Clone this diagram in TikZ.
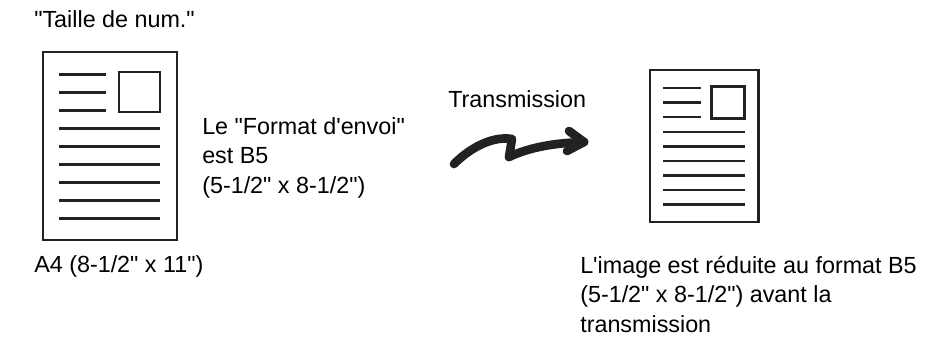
\documentclass[tikz,border=0pt]{standalone}
\usepackage{fontspec}
\setmainfont{Liberation Sans}[Ligatures=TeXOff]
\definecolor{ink}{HTML}{222222}
\begin{document}
\begin{tikzpicture}[x=0.75pt,y=-0.75pt,
  lbl/.style={font=\fontsize{17.5pt}{21.9pt}\selectfont, inner sep=0pt, anchor=base west, align=left, text=black},
  framebox/.style={draw=ink, line width=2.1pt},
  ruleline/.style={draw=ink, line width=2pt},
  squig/.style={draw=ink, line width=6.5pt, line cap=round, line join=round},
  docicon/.pic={
    \draw[framebox] (0,0) rectangle (134,188);
    \draw[framebox] (76,20) rectangle (117,60);
    \foreach \yy in {22.3,40.3,58.3} \draw[ruleline] (16,\yy) -- (63,\yy);
    \foreach \k in {0,...,5} \draw[ruleline] (16,76.7+18*\k) -- (117,76.7+18*\k);
  }]
\useasboundingbox (0,0) rectangle (928,336);

\node[lbl] (title) at (34,27) {"Taille de num."};
\pic at (43,52) {docicon};
\node[lbl] (a4) at (34,272) {A4 (8-1/2" x 11")};
% base anchor of a multi-line node is the baseline of its last line
\node[lbl] (envoi) at (202,193) {Le "Format d'envoi"\\est B5\\(5-1/2" x 8-1/2")};
\node[lbl] (trans) at (448,107) {Transmission};

\coordinate (tail) at (454,164);
\coordinate (head) at (584,142);
\draw[squig] (tail) .. controls (472,146) and (494,136) .. (512,139) -- (509,157)
  .. controls (530,147) and (555,143) .. (head);
\draw[squig] (569,131) -- (head) -- (567,151);

\pic[scale=0.808] at (650,70) {docicon};
\node[lbl] (result) at (580,332) {L'image est réduite au format B5\\(5-1/2" x 8-1/2") avant la\\transmission};
\end{tikzpicture}
\end{document}
